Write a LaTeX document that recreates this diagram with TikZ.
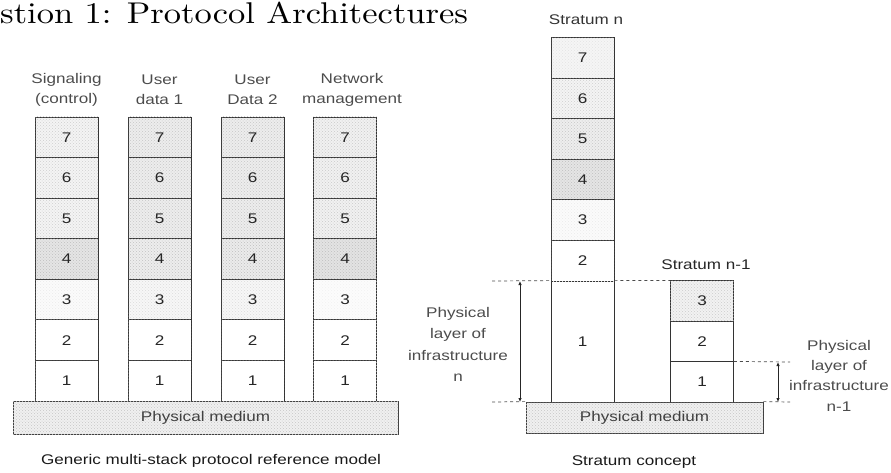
\documentclass[tikz,border=0pt]{standalone}
\usepackage{fontspec}
\setmainfont{Liberation Sans}[FakeStretch=1.22]
\newfontfamily\titlefont{lmroman10-regular}[Extension=.otf,FakeStretch=1.15]
\usetikzlibrary{arrows.meta,patterns}
\tikzset{
  layer/.style={draw=black!80, line width=0.8pt, minimum width=63pt, minimum height=40.6pt,
    inner sep=0pt, text=black!85, font=\fontsize{14}{16}\selectfont},
  medium/.style={draw=black!75, line width=0.8pt, fill=gray!12,
    postaction={pattern=crosshatch dots, pattern color=gray!45},
    inner sep=0pt, text=black!75, font=\fontsize{14}{16}\selectfont},
  lbl/.style={align=center, text=black!70, font=\fontsize{14}{20}\selectfont},
  captxt/.style={text=black!90, font=\fontsize{14}{16}\selectfont},
  guide/.style={draw=black!70, line width=0.7pt, dash pattern=on 3pt off 3pt},
  dbl/.style={draw=black!85, line width=0.8pt, {Latex[length=4pt,width=3.5pt]}-{Latex[length=4pt,width=3.5pt]}},
}
\begin{document}
\begin{tikzpicture}[x=1pt,y=-1pt]
\useasboundingbox (0,0) rectangle (891,472);
\clip (0,0) rectangle (891,472);

% title (cut at the left edge in the reference)
\node[anchor=base west, inner sep=0pt, font=\titlefont\fontsize{30}{34}\selectfont] (title) at (0,23) {stion 1: Protocol Architectures};

% headers
\node[lbl] (h1) at (66.5,89.5) {Signaling\\(control)};
\node[lbl] (h2) at (159.5,89.5) {User\\data 1};
\node[lbl] (h3) at (252.5,89.5) {User\\Data 2};
\node[lbl] (h4) at (352,89.5) {Network\\management};

% left stacks
\foreach \c/\x/\up/\upd/\mid/\midd/\thr/\thrd in {
   1/66.5/gray!9/gray!38/gray!20/gray!50/gray!3/gray!16,
   2/159.5/gray!14/gray!45/gray!14/gray!48/gray!6/gray!28,
   3/252.5/gray!14/gray!45/gray!16/gray!50/gray!6/gray!28,
   4/345/gray!11/gray!42/gray!22/gray!50/gray!2/gray!10} {
  \foreach \i in {1,...,7} {
    \ifcase\i\or
      \def\fc{white}\def\pc{white}\or
      \def\fc{white}\def\pc{white}\or
      \let\fc\thr\let\pc\thrd\or
      \let\fc\mid\let\pc\midd\else
      \let\fc\up\let\pc\upd\fi
    \node[layer, fill=\fc, postaction={pattern=crosshatch dots, pattern color=\pc}]
      (s\c l\i) at (\x, {401 - (\i-0.5)*40.57}) {\i};
  }
}
\node[medium, minimum width=385pt, minimum height=33pt] (pm1) at (205.5,417.5) {Physical medium};
\node[captxt] (cap1) at (211,461) {Generic multi-stack protocol reference model};

% stratum n
\node[captxt, text=black!80] (tn) at (586,20) {Stratum n};
\node[layer, minimum height=121pt, fill=white] (sn1) at (582.5,341.5) {1};
\foreach \i/\fc/\pc in {2/white/white, 3/gray!3/gray!16, 4/gray!20/gray!50,
                        5/gray!13/gray!45, 6/gray!9/gray!38, 7/gray!8/gray!22} {
  \node[layer, fill=\fc, postaction={pattern=crosshatch dots, pattern color=\pc}]
    (sn\i) at (582.5, {281 - (\i-1.5)*40.6}) {\i};
}

% stratum n-1
\node[captxt, text=black!85] (tm) at (706,265) {Stratum n-1};
\node[layer, minimum height=40.33pt, fill=white] (sm1) at (702,382) {1};
\node[layer, minimum height=40.33pt, fill=white] (sm2) at (702,341.5) {2};
\node[layer, minimum height=40.33pt, fill=gray!10,
      postaction={pattern=crosshatch dots, pattern color=gray!40}] (sm3) at (702,301) {3};

\node[medium, minimum width=237pt, minimum height=31pt] (pm2) at (644.5,417.5) {Physical medium};
\node[captxt] (cap2) at (634,462) {Stratum concept};

% guides
\coordinate (gl1) at (492,281);
\coordinate (gl2) at (492,402);
\coordinate (gr1) at (790,362);
\coordinate (gr2) at (790,402);
\draw[guide] (gl1) -- (sn1.north west);
\draw[guide] (sn1.north east) -- (sm3.north west);
\draw[guide] (gl2) -- (pm2.north west);
\draw[guide] (sm1.north east) -- (gr1);
\draw[guide] (pm2.north east) -- (gr2);

% arrows
\coordinate (al1) at (520,281);
\coordinate (al2) at (520,402);
\coordinate (ar1) at (778,362);
\coordinate (ar2) at (778,402);
\draw[dbl] (al1) -- (al2);
\draw[dbl] (ar1) -- (ar2);

% physical layer labels
\node[lbl, font=\fontsize{14}{21.5}\selectfont] (pl1) at (458,344.5) {Physical\\layer of\\infrastructure\\n};
\node[lbl, font=\fontsize{14}{20.3}\selectfont] (pl2) at (839,375.5) {Physical\\layer of\\infrastructure\\n-1};
\end{tikzpicture}
\end{document}
